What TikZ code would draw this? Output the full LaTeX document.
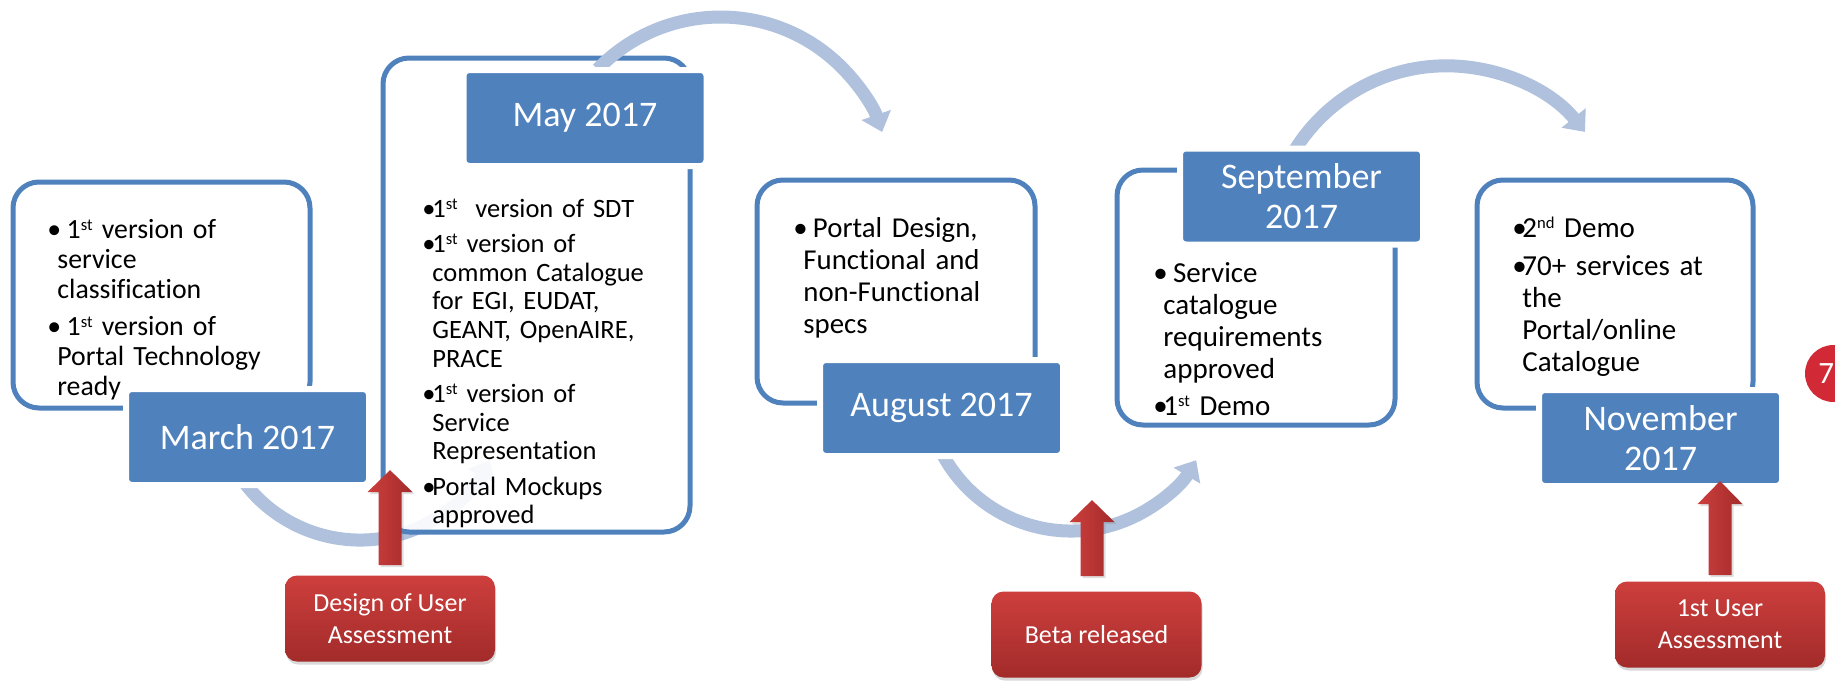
\documentclass[tikz,border=0pt]{standalone}
\usepackage{fontspec}
\setmainfont{Carlito}[Ligatures=NoCommon]
\usetikzlibrary{arrows.meta, shadows}

\definecolor{dateblue}{HTML}{4F81BD}
\definecolor{flowblue}{HTML}{AFC1DD}
\definecolor{redlight}{HTML}{CD3F3D}
\definecolor{reddark}{HTML}{A22B2A}
\definecolor{pagered}{HTML}{D12A36}

% one bullet line with hanging indent
\newcommand{\bitem}[1]{\hangindent=5pt\hangafter=1\noindent\makebox[5pt][l]{\textbullet}#1\par}
% small raised ordinal
\newcommand{\ord}[1]{\raisebox{0.28em}{\fontsize{8.3pt}{8.3pt}\selectfont #1}}

\tikzset{
  panel/.style={draw=dateblue, line width=2.5pt, rounded corners=13pt, fill=white, fill opacity=0.9, inner sep=0pt},
  datebox/.style={draw=white, line width=3pt, fill=dateblue, rounded corners=3pt, text=white, align=center,
    minimum width=121.5pt, minimum height=48pt, inner sep=0pt, font=\fontsize{18}{20}\selectfont},
  items/.style={anchor=base west, inner sep=0pt, text width=170pt, text=black},
  flow/.style={draw=flowblue, line width=6.5pt, -{Triangle[width=15pt, length=9pt]}},
  milestone/.style={rounded corners=6pt, top color=redlight, bottom color=reddark, text=white, align=center,
    minimum width=105pt, minimum height=43pt, font=\fontsize{13}{16}\selectfont,
    drop shadow={opacity=0.3, shadow xshift=0.5pt, shadow yshift=-1.5pt}},
  pointer/.style={left color=redlight, right color=reddark,
    drop shadow={opacity=0.25, shadow xshift=1pt, shadow yshift=-1pt}}
}

\begin{document}
\begin{tikzpicture}[x=0.5pt, y=0.5pt]
\useasboundingbox (0,0) rectangle (1835,-680);

% where the bent arrows start
\coordinate (a1) at (228.6,-456.3);
\coordinate (a2) at (597.7,-69.2);
\coordinate (a3) at (938.7,-446.7);
\coordinate (a4) at (1291.8,-155);

\draw[flow] (a1) arc[start angle=205, end angle=333.3, radius=145];

% white panels
\node[panel, minimum width=148.5pt, minimum height=113pt] (p1) at (161.5,-295) {};
\node[panel, minimum width=153.5pt, minimum height=237pt] (p2) at (536.5,-295) {};
\node[panel, minimum width=139pt, minimum height=111.5pt] (p3) at (896,-291.5) {};
\node[panel, minimum width=139pt, minimum height=127.5pt] (p4) at (1256,-297.5) {};
\node[panel, minimum width=138pt, minimum height=114pt] (p5) at (1615,-294) {};

\draw[flow] (a2) arc[start angle=136, end angle=19.1, radius=170.9];
\draw[flow] (a3) arc[start angle=205, end angle=329, radius=146];
\draw[flow] (a4) arc[start angle=150, end angle=39, radius=178.4];

% dates
\node[datebox] (march) at (247.5,-437) {March 2017};
\node[datebox] (may) at (585,-118) {May 2017};
\node[datebox] (aug) at (941.5,-408) {August 2017};
\node[datebox] (sep) at (1301.5,-196.5) {September\\2017};
\node[datebox] (nov) at (1660.5,-438) {November\\2017};

% bullet texts
\node[items, font=\fontsize{13.9}{15}\selectfont] (t1) at (47,-238) {\setlength{\parskip}{3.5pt}%
\bitem{\ 1\ord{st} version of\newline service\newline classification}%
\bitem{\ 1\ord{st} version of\newline Portal Technology\newline ready}};
\node[items, font=\fontsize{13.25}{14.35}\selectfont] (t2) at (422,-217) {\setlength{\parskip}{3.3pt}%
\bitem{1\ord{st}\ \ version of SDT}%
\bitem{1\ord{st} version of\newline common Catalogue\newline for EGI, EUDAT,\newline GEANT, OpenAIRE,\newline PRACE}%
\bitem{1\ord{st} version of\newline Service\newline Representation}%
\bitem{Portal Mockups\newline approved}};
\node[items, font=\fontsize{14.4}{16}\selectfont] (t3) at (793,-237) {%
\bitem{\ Portal Design,\newline Functional and\newline non-Functional\newline specs}};
\node[items, font=\fontsize{14.5}{16}\selectfont] (t4) at (1153,-282) {\setlength{\parskip}{2.5pt}%
\bitem{\ Service\newline catalogue\newline requirements\newline approved}%
\bitem{1\ord{st} Demo}};
\node[items, font=\fontsize{14.5}{16}\selectfont] (t5) at (1512,-237) {\setlength{\parskip}{3pt}%
\bitem{2\ord{nd} Demo}%
\bitem{70+ services at\newline the\newline Portal/online\newline Catalogue}};

% milestones
\node[milestone] (dua) at (390,-618.5) {Design of User\\Assessment};
\node[milestone] (beta) at (1096.5,-634.5) {Beta released};
\node[milestone] (fua) at (1720,-624.5) {1st User\\Assessment};

\path[pointer] ([shift={(-11.5,10)}]dua.north) -- ++(0,73) -- ++(-11,0) -- ++(22.5,22)
  -- ++(22.5,-22) -- ++(-11,0) -- ++(0,-73) -- cycle;
\path[pointer] ([shift={(-16,15)}]beta.north) -- ++(0,54) -- ++(-11,0) -- ++(22.5,22)
  -- ++(22.5,-22) -- ++(-11,0) -- ++(0,-54) -- cycle;
\path[pointer] ([shift={(-11.5,6)}]fua.north) -- ++(0,71) -- ++(-11,0) -- ++(22.5,23)
  -- ++(22.5,-23) -- ++(-11,0) -- ++(0,-71) -- cycle;

% page number, cut by the edge
\node[circle, fill=pagered, minimum size=28.5pt, inner sep=0pt] (pg) at (1833.5,-373.5) {};
\node[anchor=east, text=white, inner sep=0pt, font=\fontsize{15.5}{18}\selectfont] (pgnum) at ([xshift=0.5pt]pg.center) {7};
\end{tikzpicture}
\end{document}
